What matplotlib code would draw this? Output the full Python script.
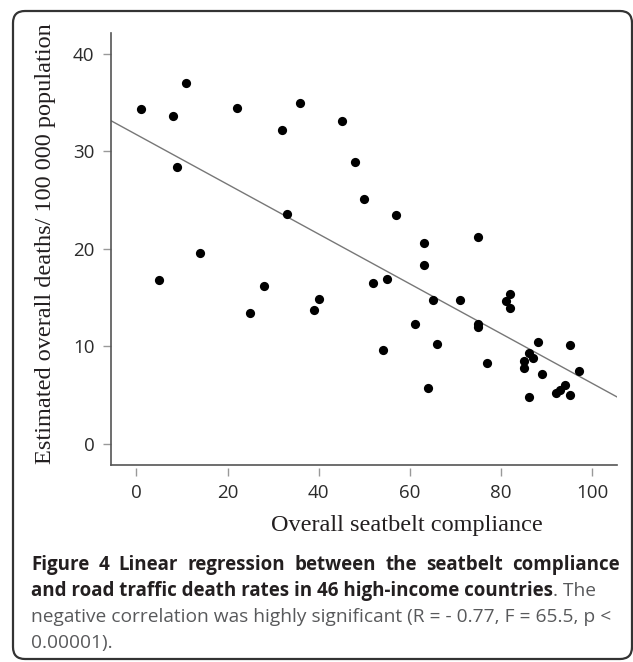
import numpy as np
import matplotlib
matplotlib.use("Agg")
from matplotlib import pyplot as plt
from matplotlib.patches import FancyBboxPatch
from matplotlib.transforms import IdentityTransform

# seatbelt compliance (%) and estimated deaths per 100 000
compliance = [1, 8, 11, 9, 22, 32, 36, 45, 33, 14,
              5, 25, 28, 39, 40, 48,
              50, 57, 63, 63, 75, 52, 55, 65, 71, 81, 82, 82,
              61, 75, 75, 66, 54, 88, 95, 86, 87, 85, 85, 77,
              89, 97, 64, 86, 92, 93, 94, 95]
deaths = [34.3, 33.6, 37.0, 28.4, 34.4, 32.2, 34.9, 33.1, 23.6, 19.6,
          16.8, 13.4, 16.2, 13.7, 14.9, 28.9,
          25.1, 23.5, 20.6, 18.3, 21.2, 16.5, 16.9, 14.7, 14.7, 14.6, 15.4, 13.9,
          12.3, 12.3, 12.0, 10.2, 9.6, 10.4, 10.1, 9.3, 8.8, 8.5, 7.8, 8.3,
          7.2, 7.5, 5.7, 4.8, 5.2, 5.5, 6.0, 5.0]

# fitted regression line as drawn
fit_intercept = 31.7
fit_slope = -0.255

xticks = [0, 20, 40, 60, 80, 100]
yticks = [0, 10, 20, 30, 40]

ylabel = "Estimated overall deaths/ 100 000 population"
xlabel = "Overall seatbelt compliance"
cap_bold1 = "Figure 4 Linear regression between the seatbelt compliance"
cap_bold2 = "and road traffic death rates in 46 high-income countries"
cap_reg2 = ". The"
cap_reg3 = "negative correlation was highly significant (R = - 0.77, F = 65.5, p <"
cap_reg4 = "0.00001)."

W, H = 633, 662
fig = plt.figure(figsize=(W / 100, H / 100), dpi=100)
fig.patch.set_facecolor("white")

# axes box in pixels: left 111, right 617, top 33, bottom 465
ax = fig.add_axes([111 / W, 1 - 465 / H, (617 - 111) / W, (465 - 33) / H])
ax.set_xlim(-5.55, 105.4)
ax.set_ylim(-2.15, 42.1)

ax.scatter(compliance, deaths, s=44, color="black", zorder=3, linewidths=0)
xl = np.array(ax.get_xlim())
ax.plot(xl, fit_intercept + fit_slope * xl, color="#777777", lw=1.0, zorder=2)

for s in ["top", "right"]:
    ax.spines[s].set_visible(False)
ax.spines["left"].set_color("#555555")
ax.spines["left"].set_linewidth(1.2)
ax.spines["bottom"].set_position(("outward", 2))
ax.spines["bottom"].set_visible(False)
ax.plot([0, 1], [0, 0], transform=ax.transAxes, color="#555555", lw=1.2,
        clip_on=False, zorder=4)

ax.set_xticks(xticks)
ax.set_yticks(yticks)
ax.tick_params(axis="both", length=5.5, width=1.0, color="#999999",
               labelcolor="#2b2b2b", labelsize=13.5, pad=6.5)
for lab in ax.get_xticklabels() + ax.get_yticklabels():
    lab.set_family("Open Sans")

renderer = fig.canvas.get_renderer()


def fit_text(x, y, text, target_w, base=12, **kw):
    t = fig.text(x / W, 1 - y / H, text, fontsize=base, **kw)
    bb = t.get_window_extent(renderer)
    w = bb.height if kw.get("rotation") == 90 else bb.width
    t.set_fontsize(base * target_w / w)
    return t


def justify(x0, x1, y, text, size, **kw):
    words = text.split()
    items = [fig.text(0, 1 - y / H, w, fontsize=size, ha="left", va="center", **kw)
             for w in words]
    widths = [t.get_window_extent(renderer).width for t in items]
    gap = (x1 - x0 - sum(widths)) / (len(words) - 1)
    x = x0
    for t, w in zip(items, widths):
        t.set_x(x / W)
        x += w + gap


# axis titles
fit_text(46, 244, ylabel, 438, family="Liberation Serif", rotation=90,
         ha="center", va="center", color="#231f20")
fit_text(407, 525, xlabel, 270, family="Liberation Serif",
         ha="center", va="center", color="#231f20")

# caption
t2 = fit_text(31, 591, cap_bold2, 522, family="Open Sans", weight="bold",
              ha="left", va="center", color="#231f20")
bsize = t2.get_fontsize()
t3 = fit_text(31, 617, cap_reg3, 579, family="Open Sans",
              ha="left", va="center", color="#58595b")
rsize = t3.get_fontsize()
justify(31, 620, 565, cap_bold1, bsize, family="Open Sans", weight="bold",
        color="#231f20")
x2 = t2.get_window_extent(renderer).x1
fig.text(x2 / W, 1 - 591 / H, cap_reg2, fontsize=rsize, family="Open Sans",
         ha="left", va="center", color="#58595b")
fig.text(31 / W, 1 - 643 / H, cap_reg4, fontsize=rsize, family="Open Sans",
         ha="left", va="center", color="#58595b")

# rounded frame around figure
frame = FancyBboxPatch((13, 3), 619, 648, boxstyle="round,pad=0,rounding_size=12",
                       transform=IdentityTransform(), facecolor="none",
                       edgecolor="#333333", lw=1.6)
fig.add_artist(frame)

fig.savefig("out.png", dpi=100)
